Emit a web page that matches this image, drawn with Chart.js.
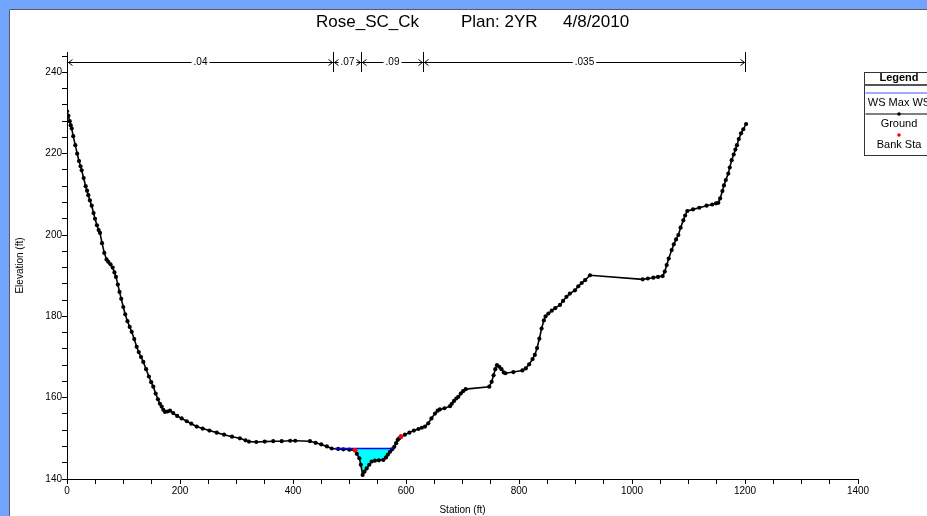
<!DOCTYPE html>
<html>
<head>
<meta charset="utf-8">
<script src="https://cdn.jsdelivr.net/npm/chart.js@4.4.1/dist/chart.umd.min.js"></script>
<style>
  html, body { margin: 0; padding: 0; background: #70a4ff; overflow: hidden; }
  #wrap { position: relative; width: 927px; height: 516px; }
</style>
</head>
<body>
<div id="wrap"><canvas id="xsChart" width="927" height="516"></canvas></div>
<script>
// cross section: Rose_SC_Ck, plan 2YR
const groundSta = [
  0, 2.5, 4.8, 6.5, 8.3, 11, 14.7, 18, 21.2, 24, 26, 29.5, 33, 35.5, 37.7, 40.5, 43.7, 47, 49.6, 53,
  56, 58.4, 62, 66, 70, 73, 77, 80.8, 84, 86.7, 90, 93, 96, 99.6, 103, 107, 111, 114.5, 119, 123.3,
  127, 131, 135, 140, 145, 149, 152.7, 157, 161, 164.5, 167.6, 170.5, 173.5, 178, 182.3, 188, 195, 203, 212, 220,
  229.5, 240, 252, 265, 278, 292, 306, 316, 322, 335, 350, 365, 380, 395, 404, 430, 440, 450, 460, 468.5,
  480, 489, 500, 509.7, 513, 517.4, 520, 523.3, 526.5, 530.4, 535, 539.3, 545, 552, 560, 564.6, 568, 571.7, 575.5, 579.3,
  582.5, 585.3, 588, 591, 598, 606, 614, 622, 628, 633.6, 639.5, 645, 651.3, 656, 660, 668, 677.9, 681, 685, 689,
  692.6, 697, 701, 705.6, 747.4, 751.6, 755, 758, 761, 765, 769, 773, 776, 790, 806, 812, 818, 824, 828, 832,
  836, 840, 844, 847, 852, 858, 864, 872.6, 878, 884, 890, 899, 905, 911, 917, 925.7, 1018.9, 1028, 1037.7, 1046,
  1054.3, 1058, 1061.4, 1065, 1070.2, 1074, 1078, 1082, 1086, 1090.8, 1094, 1097.9, 1108, 1119, 1132, 1142, 1148.7, 1152.7, 1156, 1160,
  1162.8, 1166, 1170.4, 1173, 1176.4, 1180, 1183, 1185.8, 1189, 1193, 1197, 1202
];
const groundElev = [
  230.4, 229.3, 228.0, 227.0, 226.2, 224.3, 222.1, 220.0, 218.2, 216.9, 215.9, 214.0, 212.0, 210.9, 209.8, 208.5, 207.2, 205.4, 204.0, 202.4,
  201.2, 200.5, 198.0, 195.6, 194.0, 193.4, 192.8, 192.0, 190.8, 189.7, 187.8, 186.0, 184.3, 182.3, 180.5, 178.8, 177.4, 176.2, 174.4, 172.5,
  171.2, 170.0, 168.8, 167.0, 165.2, 163.8, 162.7, 161.0, 159.6, 158.5, 157.8, 157.0, 156.5, 156.6, 156.8, 156.2, 155.5, 154.9, 154.2, 153.6,
  152.9, 152.4, 151.9, 151.4, 150.9, 150.4, 150.0, 149.5, 149.2, 149.1, 149.2, 149.3, 149.3, 149.4, 149.4, 149.3, 148.9, 148.5, 148.0, 147.5,
  147.4, 147.3, 147.2, 147.1, 146.2, 145.1, 143.5, 141.0, 141.8, 142.6, 143.5, 144.3, 144.5, 144.6, 144.7, 145.3, 146.0, 146.7, 147.3, 147.9,
  148.8, 149.6, 150.0, 150.4, 150.9, 151.4, 151.9, 152.3, 152.6, 152.9, 153.7, 154.9, 156.1, 156.8, 157.1, 157.4, 157.9, 158.5, 159.2, 159.8,
  160.2, 161.0, 161.6, 162.1, 162.7, 163.9, 165.5, 167.0, 168.0, 167.6, 167.0, 166.2, 166.0, 166.3, 166.7, 167.2, 168.2, 169.5, 170.5, 172.2,
  174.5, 177.0, 179.0, 180.0, 180.7, 181.4, 182.0, 182.8, 183.8, 184.8, 185.6, 186.4, 187.4, 188.2, 188.9, 190.1, 189.1, 189.3, 189.5, 189.7,
  189.9, 191.0, 192.6, 194.2, 196.3, 197.7, 198.9, 200.0, 201.8, 203.6, 204.8, 205.9, 206.3, 206.7, 207.2, 207.5, 207.8, 207.9, 209.0, 210.8,
  212.2, 213.5, 215.1, 216.6, 218.4, 219.8, 221.0, 222.1, 223.6, 225.0, 226.0, 227.3
];

const wsSta = [474, 578];
const wsElev = [147.5, 147.5];

const bankSta = [509.7, 591];
const bankElev = [147.1, 150.4];

// manning's n regions along the top
const nSta = [0, 470, 520, 630, 1200];
const nVal = [".04", ".07", ".09", ".035"];

const xMajor = [0, 200, 400, 600, 800, 1000, 1200, 1400];
const yMajor = [140, 160, 180, 200, 220, 240];

const FONT = "'Liberation Sans', Arial, sans-serif";

const toPts = (xs, ys) => xs.map((x, i) => ({ x: x, y: ys[i] }));

const framePlugin = {
  id: "frame",
  beforeDraw: (chart) => {
    const ctx = chart.ctx;
    const w = chart.width, h = chart.height;
    ctx.save();
    ctx.fillStyle = "#70a4ff";
    ctx.fillRect(0, 0, w, h);
    ctx.fillStyle = "#ffffff";
    ctx.fillRect(9, 9, w, h);
    ctx.strokeStyle = "#5a5a5a";
    ctx.lineWidth = 1;
    ctx.beginPath();
    ctx.moveTo(9.5, h);
    ctx.lineTo(9.5, 9.5);
    ctx.lineTo(w, 9.5);
    ctx.stroke();
    ctx.restore();
  },
};

const titlePlugin = {
  id: "xsTitle",
  afterDraw: (chart) => {
    const ctx = chart.ctx;
    ctx.save();
    ctx.fillStyle = "#000";
    ctx.font = "17px " + FONT;
    ctx.textBaseline = "middle";
    ctx.textAlign = "left";
    ctx.fillText("Rose_SC_Ck", 316, 22);
    ctx.fillText("Plan: 2YR", 461, 22);
    ctx.fillText("4/8/2010", 563, 22);
    ctx.restore();
  },
};

const nValuePlugin = {
  id: "nValues",
  afterDraw: (chart) => {
    const ctx = chart.ctx;
    const sx = chart.scales.x, sy = chart.scales.y;
    const top = chart.chartArea.top;
    const bot = Math.round(sy.getPixelForValue(240));
    const yl = Math.round(sy.getPixelForValue(242.5)) + 0.5;
    ctx.save();
    ctx.strokeStyle = "#000";
    ctx.fillStyle = "#000";
    ctx.lineWidth = 1;
    ctx.font = "10px " + FONT;
    ctx.textAlign = "center";
    ctx.textBaseline = "middle";

    nSta.forEach((s) => {
      const px = Math.round(sx.getPixelForValue(s)) + 0.5;
      ctx.beginPath();
      ctx.moveTo(px, top);
      ctx.lineTo(px, bot);
      ctx.stroke();
    });

    for (let i = 0; i < nVal.length; i++) {
      const x0 = Math.round(sx.getPixelForValue(nSta[i])) + 0.5;
      const x1 = Math.round(sx.getPixelForValue(nSta[i + 1])) + 0.5;
      const mid = (x0 + x1) / 2;
      const tw = ctx.measureText(nVal[i]).width;
      ctx.beginPath();
      ctx.moveTo(x0, yl);
      ctx.lineTo(mid - tw / 2 - 2, yl);
      ctx.moveTo(mid + tw / 2 + 2, yl);
      ctx.lineTo(x1, yl);
      // arrow heads pointing at the bars
      ctx.moveTo(x0 + 5, yl - 3);
      ctx.lineTo(x0 + 1, yl);
      ctx.lineTo(x0 + 5, yl + 3);
      ctx.moveTo(x1 - 5, yl - 3);
      ctx.lineTo(x1 - 1, yl);
      ctx.lineTo(x1 - 5, yl + 3);
      ctx.stroke();
      ctx.fillText(nVal[i], mid, yl);
    }
    ctx.restore();
  },
};

const legendPlugin = {
  id: "xsLegend",
  afterDraw: (chart) => {
    const ctx = chart.ctx;
    const bx = 864.5, by = 72.5, bw = 72, bh = 83;
    const cx = 899;
    const ds = chart.data.datasets;
    ctx.save();
    ctx.fillStyle = "#fff";
    ctx.fillRect(bx, by, bw, bh);
    ctx.strokeStyle = "#333";
    ctx.lineWidth = 1;
    ctx.strokeRect(bx, by, bw, bh);

    ctx.fillStyle = "#000";
    ctx.textAlign = "center";
    ctx.textBaseline = "middle";
    ctx.font = "bold 11px " + FONT;
    ctx.fillText("Legend", cx, 78);
    ctx.strokeStyle = "#555";
    ctx.lineWidth = 2;
    ctx.beginPath();
    ctx.moveTo(bx, 85);
    ctx.lineTo(bx + bw, 85);
    ctx.stroke();

    ctx.font = "11px " + FONT;
    let y = 93;
    ds.forEach((d) => {
      if (d.showLine !== false) {
        ctx.strokeStyle = d.legendColor || d.borderColor;
        ctx.lineWidth = 1.2;
        ctx.beginPath();
        ctx.moveTo(bx + 1, y);
        ctx.lineTo(bx + bw, y);
        ctx.stroke();
      }
      if (d.pointRadius > 0) {
        ctx.fillStyle = d.pointBackgroundColor;
        ctx.beginPath();
        ctx.arc(cx, y, 1.8, 0, Math.PI * 2);
        ctx.fill();
      }
      ctx.fillStyle = "#000";
      ctx.fillText(d.label, cx, y + 10);
      y += 21;
    });
    ctx.restore();
  },
};

const ctx = document.getElementById("xsChart").getContext("2d");

new Chart(ctx, {
  type: "line",
  data: {
    datasets: [
      {
        label: "WS Max WS",
        data: toPts(wsSta, wsElev),
        borderColor: "#0000ff",
        legendColor: "#5050ff",
        borderWidth: 1.6,
        pointRadius: 0,
        fill: { target: 1, above: "#00ffff", below: "rgba(0,0,0,0)" },
        order: 1,
      },
      {
        label: "Ground",
        data: toPts(groundSta, groundElev),
        borderColor: "#000000",
        borderWidth: 1.6,
        pointRadius: 2.1,
        pointBorderWidth: 0,
        pointBackgroundColor: "#000000",
        fill: false,
        order: 2,
      },
      {
        label: "Bank Sta",
        data: toPts(bankSta, bankElev),
        showLine: false,
        pointRadius: 2.4,
        pointBorderWidth: 0,
        pointBackgroundColor: "#ff0000",
        borderColor: "#ff0000",
        order: 0,
      },
    ],
  },
  options: {
    responsive: false,
    animation: false,
    devicePixelRatio: 1,
    events: [],
    layout: { padding: { left: 9, top: 52, right: 69, bottom: 0 } },
    plugins: {
      legend: { display: false },
      tooltip: { enabled: false },
      filler: { drawTime: "beforeDatasetsDraw" },
    },
    scales: {
      x: {
        type: "linear",
        position: "bottom",
        min: 0,
        max: 1400,
        afterFit: (s) => { s.height = 37; },
        ticks: {
          stepSize: 50,
          autoSkip: false,
          maxRotation: 0,
          padding: 1,
          color: "#000",
          font: { family: FONT, size: 10 },
          callback: (v) => (xMajor.includes(v) ? String(v) : ""),
        },
        grid: { display: true, drawOnChartArea: false, tickLength: 5, color: "#000" },
        border: { display: true, color: "#000", width: 1 },
        title: {
          display: true,
          text: "Station (ft)",
          color: "#000",
          font: { family: FONT, size: 10 },
          padding: { top: 0, bottom: 0 },
        },
      },
      y: {
        type: "linear",
        min: 140,
        max: 245,
        afterFit: (s) => { s.width = 58; },
        ticks: {
          stepSize: 4,
          includeBounds: false,
          autoSkip: false,
          padding: 0,
          color: "#000",
          font: { family: FONT, size: 10 },
          callback: (v) => (yMajor.includes(v) ? String(v) : ""),
        },
        grid: { display: true, drawOnChartArea: false, tickLength: 5, color: "#000" },
        border: { display: true, color: "#000", width: 1 },
        title: {
          display: true,
          text: "Elevation (ft)",
          color: "#000",
          font: { family: FONT, size: 10 },
          padding: { top: 5, bottom: 0 },
        },
      },
    },
  },
  plugins: [framePlugin, titlePlugin, nValuePlugin, legendPlugin],
});
</script>
</body>
</html>
